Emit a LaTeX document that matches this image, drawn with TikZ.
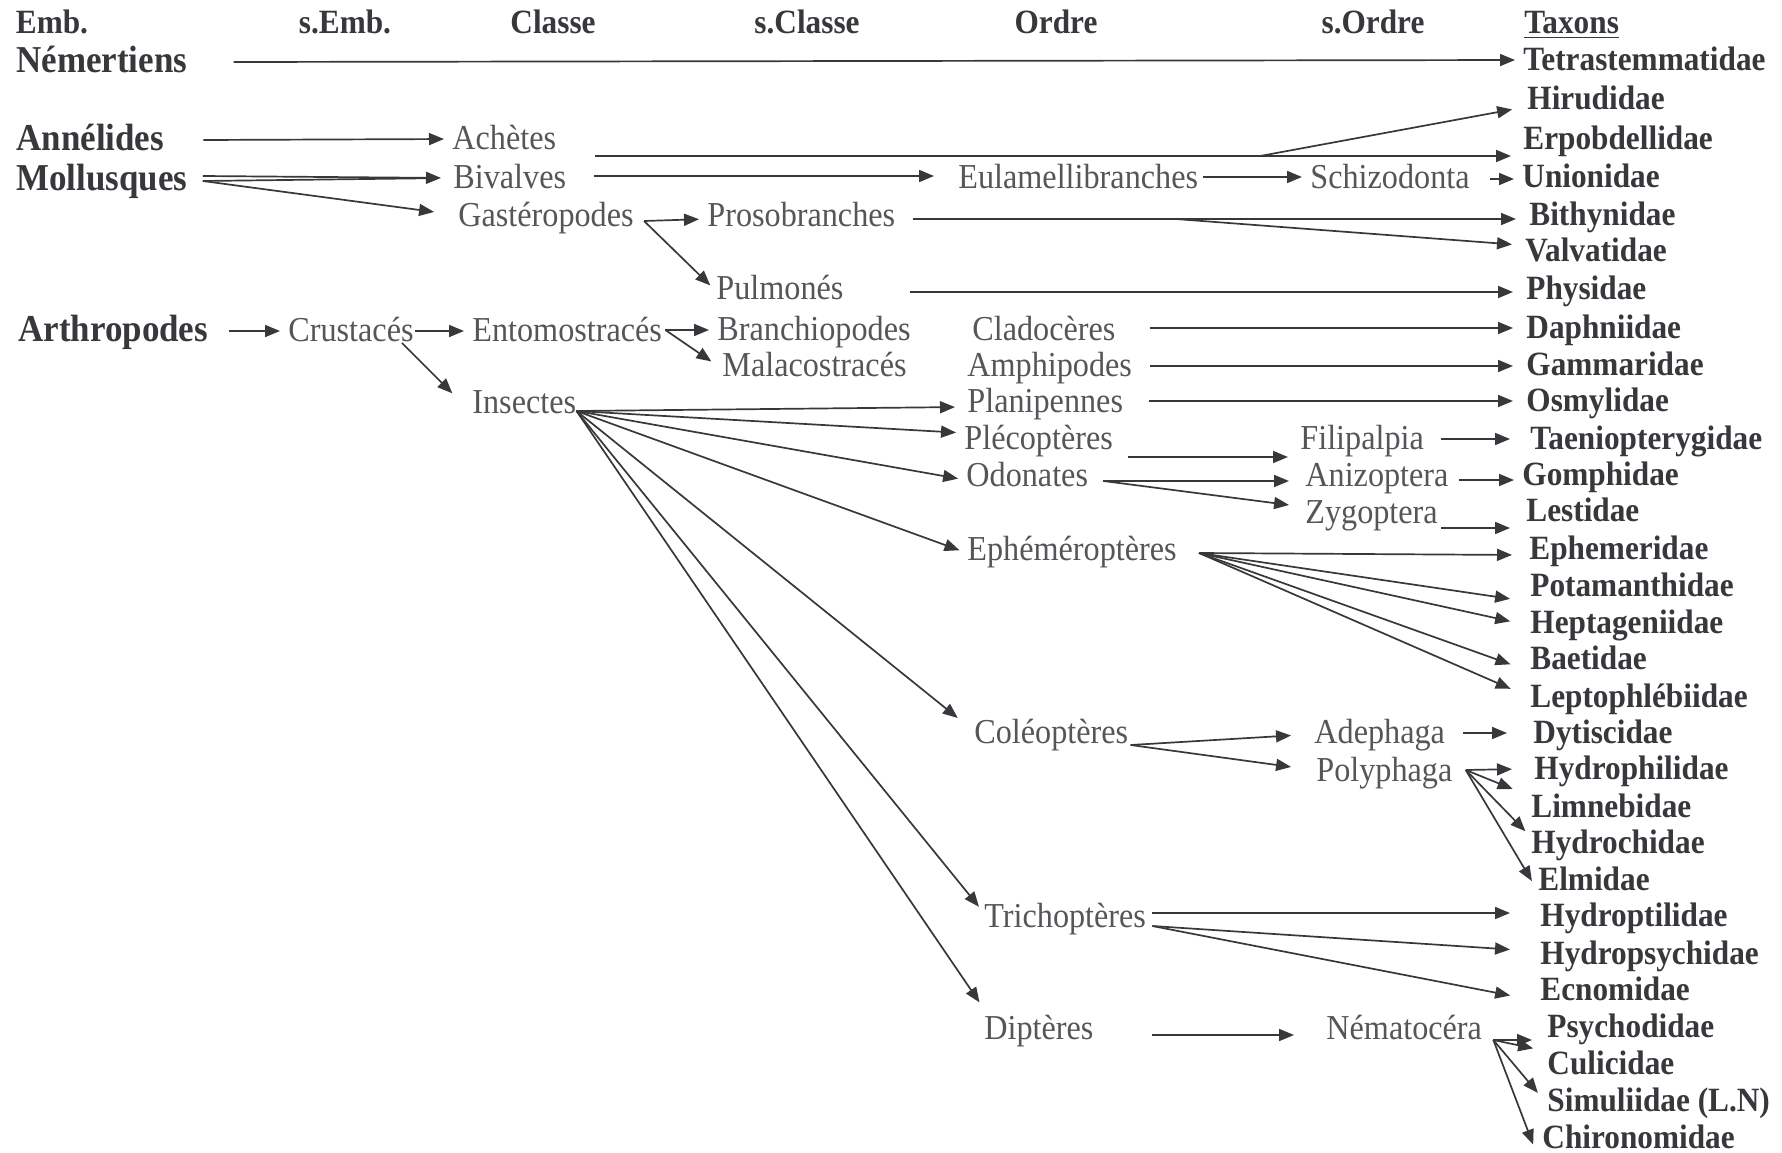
\documentclass[tikz,border=0pt]{standalone}
\usepackage{fontspec}
\setmainfont{Liberation Serif}[FakeStretch=0.92]
\usepackage{xcolor}
\usetikzlibrary{calc,arrows.meta}
\definecolor{encre}{RGB}{56,56,60}
\definecolor{gris}{RGB}{86,86,90}

\begin{document}
\begin{tikzpicture}[
        x=0.5pt, y=-0.5pt,
        % --- STYLES ---
        base/.style={inner sep=0pt, anchor=west, text height=1.08em, text depth=0em},
        titre/.style={base, anchor=center, text=encre, font=\bfseries\fontsize{17pt}{20pt}\selectfont},
        embr/.style={base, text=encre, font=\bfseries\fontsize{19pt}{22pt}\selectfont},
        groupe/.style={base, text=gris, font=\fontsize{17.5pt}{21pt}\selectfont},
        taxon/.style={base, text=encre, font=\bfseries\fontsize{17pt}{20pt}\selectfont},
        % fleches
        fleche/.style={draw=encre, line width=0.85pt, -{Triangle[length=7.5pt,width=6pt]}, shorten >=4pt},
        trait/.style={draw=encre, line width=0.85pt}
    ]

        % --- FOND ---
        \fill[white] (0,0) rectangle (1782,1152);

        % --- EN-TETES ---
        \node[titre] (embh) at (52,23) {Emb.};
        \node[titre] (sembh) at (345,23) {s.Emb.};
        \node[titre] (clh) at (553,23) {Classe};
        \node[titre] (sclh) at (807,23) {s.Classe};
        \node[titre] (ordh) at (1056,23) {Ordre};
        \node[titre] (sordh) at (1373,23) {s.Ordre};
        \node[titre, anchor=west] (taxh) at (1524,23) {\underline{Taxons}};

        % --- EMBRANCHEMENTS ---
        \node[embr] (nem) at (16,62) {Némertiens};
        \node[embr] (ann) at (16,140) {Annélides};
        \node[embr] (mol) at (16,180) {Mollusques};
        \node[embr] (art) at (18,331) {Arthropodes};

        % --- CLASSES, S.CLASSES ---
        \node[groupe] (ach) at (452,139) {Achètes};
        \node[groupe] (biv) at (453,178) {Bivalves};
        \node[groupe] (gas) at (458,216) {Gastéropodes};
        \node[groupe] (cru) at (288,331) {Crustacés};
        \node[groupe] (ent) at (472,331) {Entomostracés};
        \node[groupe] (ins) at (472,403) {Insectes};
        \node[groupe] (pro) at (707,216) {Prosobranches};
        \node[groupe] (pul) at (716,289) {Pulmonés};
        \node[groupe] (bra) at (717,330) {Branchiopodes};
        \node[groupe] (mal) at (722,366) {Malacostracés};

        % --- ORDRES ---
        \node[groupe] (eul) at (958,178) {Eulamellibranches};
        \node[groupe] (cla) at (972,330) {Cladocères};
        \node[groupe] (amp) at (967,366) {Amphipodes};
        \node[groupe] (pla) at (967,402) {Planipennes};
        \node[groupe] (ple) at (964,439) {Plécoptères};
        \node[groupe] (odo) at (966,476) {Odonates};
        \node[groupe] (eph) at (967,550) {Ephéméroptères};
        \node[groupe] (col) at (974,733) {Coléoptères};
        \node[groupe] (tri) at (984,917) {Trichoptères};
        \node[groupe] (dip) at (984,1029) {Diptères};

        % --- S.ORDRES ---
        \node[groupe] (sch) at (1310,178) {Schizodonta};
        \node[groupe] (fil) at (1300,439) {Filipalpia};
        \node[groupe] (ani) at (1305,476) {Anizoptera};
        \node[groupe] (zyg) at (1305,513) {Zygoptera};
        \node[groupe] (ade) at (1314,733) {Adephaga};
        \node[groupe] (pol) at (1316,771) {Polyphaga};
        \node[groupe] (nmt) at (1326,1029) {Nématocéra};

        % --- TAXONS ---
        \node[taxon] (tetr) at (1523,60) {Tetrastemmatidae};
        \node[taxon] (hiru) at (1527,99) {Hirudidae};
        \node[taxon] (erpo) at (1523,139) {Erpobdellidae};
        \node[taxon] (unio) at (1522,177) {Unionidae};
        \node[taxon] (bith) at (1529,215) {Bithynidae};
        \node[taxon] (valv) at (1525,251) {Valvatidae};
        \node[taxon] (phys) at (1526,289) {Physidae};
        \node[taxon] (daph) at (1526,328) {Daphniidae};
        \node[taxon] (gamm) at (1526,365) {Gammaridae};
        \node[taxon] (osmy) at (1526,401) {Osmylidae};
        \node[taxon] (taen) at (1530,439) {Taeniopterygidae};
        \node[taxon] (gomp) at (1522,475) {Gomphidae};
        \node[taxon] (lest) at (1526,511) {Lestidae};
        \node[taxon] (ephe) at (1529,549) {Ephemeridae};
        \node[taxon] (pota) at (1530,586) {Potamanthidae};
        \node[taxon] (hept) at (1530,623) {Heptageniidae};
        \node[taxon] (baet) at (1530,659) {Baetidae};
        \node[taxon] (lept) at (1530,697) {Leptophlébiidae};
        \node[taxon] (dyti) at (1533,733) {Dytiscidae};
        \node[taxon] (hydph) at (1534,769) {Hydrophilidae};
        \node[taxon] (limn) at (1531,807) {Limnebidae};
        \node[taxon] (hydch) at (1531,843) {Hydrochidae};
        \node[taxon] (elmi) at (1538,880) {Elmidae};
        \node[taxon] (hydpt) at (1540,916) {Hydroptilidae};
        \node[taxon] (hydps) at (1540,954) {Hydropsychidae};
        \node[taxon] (ecno) at (1540,990) {Ecnomidae};
        \node[taxon] (psyc) at (1547,1027) {Psychodidae};
        \node[taxon] (culi) at (1547,1064) {Culicidae};
        \node[taxon] (simu) at (1547,1101) {Simuliidae (L.N)};
        \node[taxon] (chir) at (1542,1138) {Chironomidae};

        % --- NEMERTIENS, ANNELIDES, MOLLUSQUES ---
        \draw[fleche] ($(nem.east)+(46,0)$) -- (tetr.west);
        \draw[fleche] ($(ann.east)+(39,0)$) -- (ach.west);
        \draw[fleche] ($(mol.east)+(15,-4)$) -- ($(biv.west)+(-4,0)$);
        \draw[trait, shorten >=10pt] ($(mol.east)+(15,1)$) -- ($(biv.west)+(-4,0)$);
        \draw[fleche] ($(mol.east)+(15,1)$) -- ($(gas.west)+(-16,-3)$);
        \draw[fleche] ($(ach.east)+(38,17)$) -- coordinate[pos=0.72] (achsplit) ($(erpo.west)+(-4,17)$);
        \draw[fleche] (achsplit) -- ($(hiru.west)+(-7,9)$);
        \draw[fleche] ($(biv.east)+(28,-2)$) -- ($(eul.west)+(-16,-2)$);
        \draw[fleche] ($(eul.east)+(5,-1)$) -- ($(sch.west)+(0,-1)$);
        \draw[fleche] ($(sch.east)+(20,1)$) -- ($(unio.west)+(0,2)$);
        \draw[fleche] ($(gas.east)+(10,5)$) -- ($(pro.west)+(0,3)$);
        \draw[fleche] ($(gas.east)+(10,5)$) -- ($(pul.west)+(0,2)$);
        \draw[fleche] ($(pro.east)+(17,3)$) -- coordinate[pos=0.43] (prosplit) ($(bith.west)+(-5,4)$);
        \draw[fleche] (prosplit) -- ($(valv.west)+(-5,-6)$);
        \draw[fleche] ($(pul.east)+(66,3)$) -- ($(phys.west)+(-5,3)$);

        % --- ARTHROPODES ---
        \draw[fleche] ($(art.east)+(20,0)$) -- (cru.west);
        \draw[fleche] ($(cru.east)+(1,0)$) -- (ent.west);
        \draw[fleche] ($(cru.east)+(-12,12)$) -- ($(ins.west)+(-14,-4)$);
        \draw[fleche] ($(ent.east)+(3,-1)$) -- (bra.west);
        \draw[fleche] ($(ent.east)+(3,-1)$) -- ($(mal.west)+(-4,0)$);
        \draw[fleche] ($(cla.east)+(34,-2)$) -- ($(daph.west)+(-5,0)$);
        \draw[fleche] ($(amp.east)+(18,0)$) -- ($(gamm.west)+(-5,1)$);
        \draw[fleche] ($(pla.east)+(26,-1)$) -- ($(osmy.west)+(-5,0)$);

        % --- INSECTES ---
        \coordinate (insfan) at ($(ins.east)+(0,8)$);
        \foreach \cible/\dx/\dy in {pla/-4/5, ple/0/-6, odo/0/4, eph/0/3, col/-10/-10, tri/0/-4, dip/0/-20}
            \draw[fleche] (insfan) -- ($(\cible.west)+(\dx,\dy)$);

        \draw[fleche] ($(ple.east)+(15,18)$) -- ($(fil.west)+(-4,18)$);
        \draw[fleche] ($(odo.east)+(15,5)$) -- ($(ani.west)+(-8,5)$);
        \draw[fleche] ($(odo.east)+(15,5)$) -- ($(zyg.west)+(-8,-7)$);
        \draw[fleche] ($(fil.east)+(17,0)$) -- ($(taen.west)+(-12,0)$);
        \draw[fleche] ($(ani.east)+(10,4)$) -- ($(gomp.west)+(0,5)$);
        \draw[fleche] ($(zyg.east)+(3,15)$) -- ($(lest.west)+(-8,17)$);

        % Ephemeropteres
        \coordinate (ephfan) at ($(eph.east)+(22,3)$);
        \foreach \cible/\dx/\dy in {ephe/-9/6, pota/-12/14, hept/-12/0, baet/-12/8, lept/-12/-5}
            \draw[fleche] (ephfan) -- ($(\cible.west)+(\dx,\dy)$);

        % Coleopteres
        \draw[fleche] ($(col.east)+(2,12)$) -- ($(ade.west)+(-15,2)$);
        \draw[fleche] ($(col.east)+(2,12)$) -- ($(pol.west)+(-17,-3)$);
        \draw[fleche] ($(ade.east)+(18,0)$) -- ($(dyti.west)+(-18,0)$);
        \coordinate (polfan) at ($(pol.east)+(13,-1)$);
        \foreach \cible/\dx/\dy in {hydph/-14/0, limn/-11/-15, hydch/0/-6, elmi/-2/8}
            \draw[fleche] (polfan) -- ($(\cible.west)+(\dx,\dy)$);

        % Trichopteres
        \draw[fleche] ($(tri.east)+(6,-4)$) -- ($(hydpt.west)+(-22,-3)$);
        \draw[fleche] ($(tri.east)+(6,9)$) -- ($(hydps.west)+(-22,-4)$);
        \draw[fleche] ($(tri.east)+(6,9)$) -- ($(ecno.west)+(-22,7)$);

        % Dipteres
        \draw[fleche] ($(dip.east)+(58,6)$) -- ($(nmt.west)+(-24,6)$);
        \coordinate (nmtfan) at ($(nmt.east)+(11,11)$);
        \foreach \cible/\dx/\dy in {psyc/-7/13, culi/-6/-14, simu/-4/-2, chir/-6/14}
            \draw[fleche] (nmtfan) -- ($(\cible.west)+(\dx,\dy)$);

    \end{tikzpicture}
\end{document}
